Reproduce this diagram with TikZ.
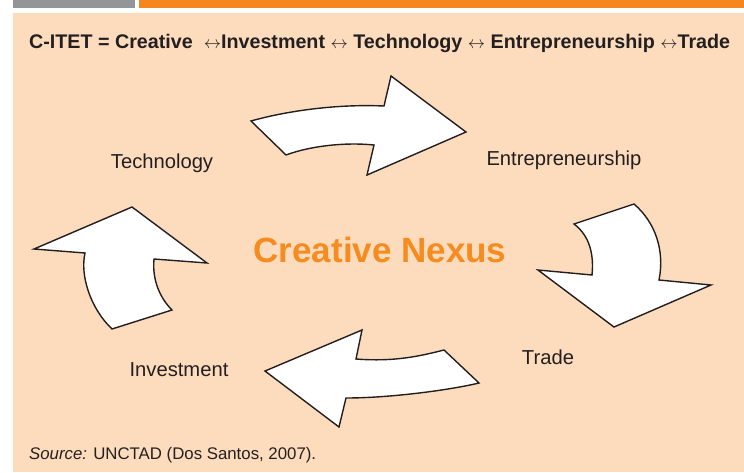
\documentclass[tikz,border=0pt]{standalone}
\usepackage{fontspec}
\setmainfont{Liberation Sans}
\usepackage{tikz}
\usetikzlibrary{positioning}

\definecolor{peach}{HTML}{FDDCBD}
\definecolor{barorange}{HTML}{F6871F}
\definecolor{bargray}{HTML}{939598}
\definecolor{inkdark}{HTML}{231F20}
\definecolor{nexusorange}{HTML}{F68B1F}

\newcommand{\linkarrow}{{\fontsize{16}{16}\selectfont$\leftrightarrow$}}

\tikzset{
  bigarrow/.style={fill=white, draw=inkdark, line width=1.4pt, line join=miter},
  cyclelabel/.style={font=\fontsize{20.2}{21}\selectfont, text=inkdark, anchor=base, inner sep=0pt}
}

\begin{document}
\begin{tikzpicture}[x=1pt, y=-1pt]

\path[use as bounding box] (0,0) rectangle (744,472);

% Header bars and background
\fill[bargray]   (13,0) rectangle (135,7.5);
\fill[barorange] (139,0) rectangle (744,7.5);
\fill[peach]     (13,13) rectangle (744,472);

% Title line
\node[font=\bfseries\fontsize{19.7}{20}\selectfont, text=inkdark, anchor=base west, inner sep=0pt]
  (title) at (29,48)
  {C-ITET = Creative \ \linkarrow Investment \linkarrow\ Technology \linkarrow\ Entrepreneurship \linkarrow Trade};

% Cycle arrows (clockwise)
\draw[bigarrow] (251,121) .. controls (290,110) and (340,104) .. (384,106)
  -- (391,76) -- (466,132) -- (367,175) -- (374,145)
  .. controls (345,142) and (310,146) .. (286,155) -- cycle;
\draw[bigarrow] (574,224) -- (634,204) .. controls (655,222) and (665,250) .. (659,280)
  -- (711,285) -- (614,327) -- (538,270) -- (592,275)
  .. controls (594,255) and (590,236) .. (574,224) -- cycle;
\draw[bigarrow] (444,350) -- (479,383) .. controls (450,390) and (390,398) .. (346,398)
  -- (339,427) -- (265,371) -- (362,330) -- (356,359)
  .. controls (395,362) and (420,356) .. (444,350) -- cycle;
\draw[bigarrow] (112,329) -- (172,310) .. controls (160,298) and (152,280) .. (154,259)
  -- (207,263) -- (132,207) -- (34,249) -- (85,253)
  .. controls (80,275) and (90,308) .. (112,329) -- cycle;

% Stage labels
\node[cyclelabel] (tech)   at (162,168) {Technology};
\node[cyclelabel] (entre)  at (564,165) {Entrepreneurship};
\node[cyclelabel] (trade)  at (548,364) {Trade};
\node[cyclelabel] (invest) at (179,376) {Investment};

% Centre
\node[font=\bfseries\fontsize{35}{36}\selectfont, text=nexusorange, anchor=base, inner sep=0pt]
  (nexus) at (380,262) {Creative Nexus};

% Source note
\node[font=\fontsize{16.8}{18}\selectfont, text=inkdark, anchor=base west, inner sep=0pt]
  (source) at (29,459) {\textit{Source:} UNCTAD (Dos Santos, 2007).};

\end{tikzpicture}
\end{document}
